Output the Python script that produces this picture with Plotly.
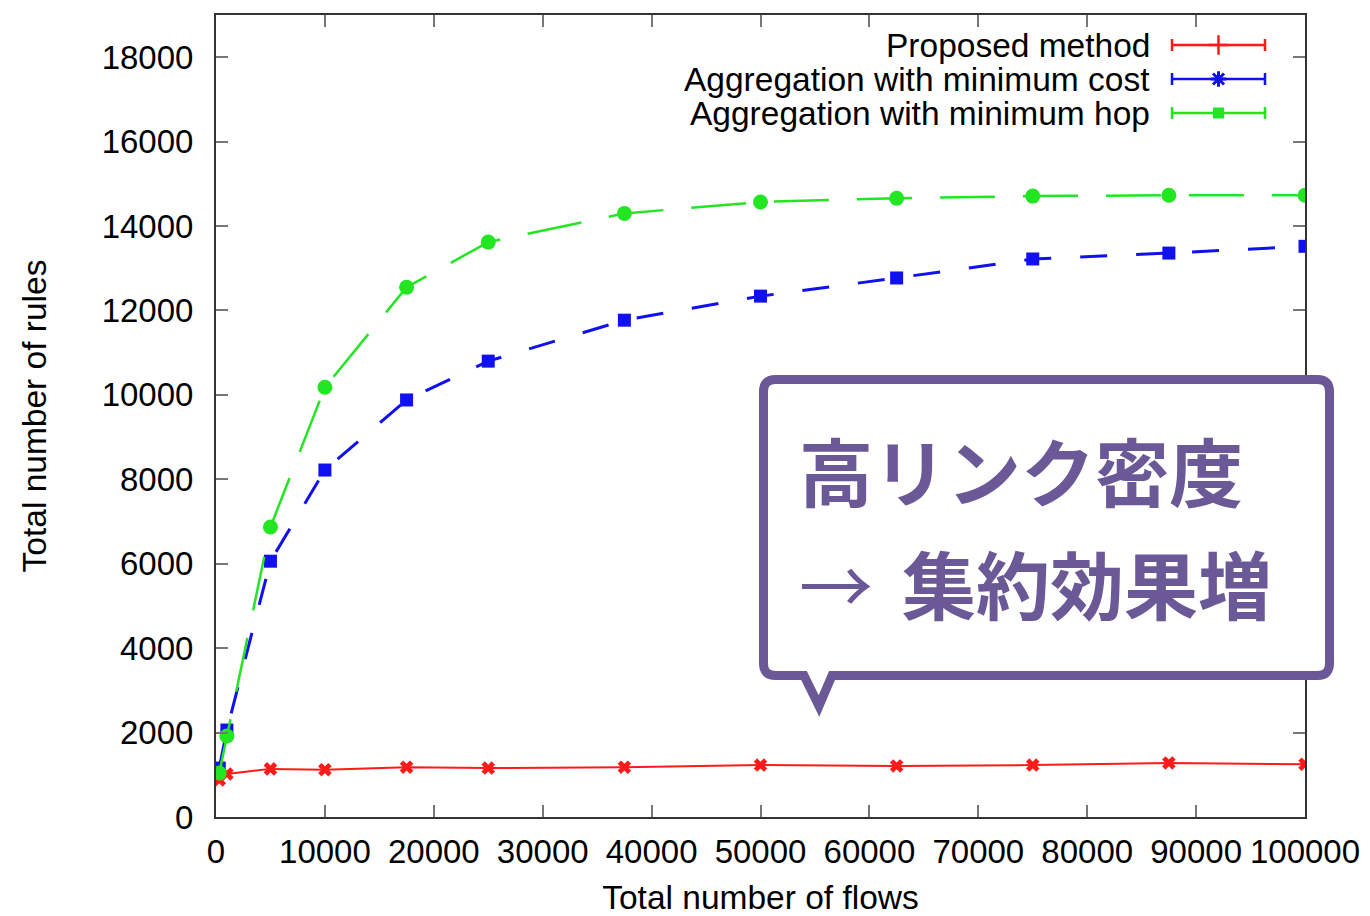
import plotly.graph_objects as go

# Total number of flows (x) and resulting rule counts per method (y)
flows = [300, 1000, 5000, 10000, 17500, 25000, 37500, 50000, 62500, 75000, 87500, 100000]
proposed = [880, 1020, 1140, 1120, 1180, 1160, 1180, 1230, 1210, 1230, 1280, 1250]
min_cost = [1160, 2060, 6060, 8220, 9880, 10800, 11770, 12340, 12770, 13220, 13360, 13520]
min_hop = [1040, 1920, 6870, 10180, 12550, 13620, 14300, 14570, 14660, 14710, 14730, 14730]

series_names = ["Proposed method", "Aggregation with minimum cost", "Aggregation with minimum hop"]
x_ticks = list(range(0, 100001, 10000))
y_ticks = list(range(0, 18001, 2000))

RED, BLUE, GREEN = "#ff1a1a", "#1010f0", "#22e622"
PURPLE = "#6b5897"
W, H = 1370, 916
ML, MR, MT, MB = 216, 65, 15, 99
PW, PH = W - ML - MR, H - MT - MB


def px(x):
    return (x - ML) / PW


def py(y):
    return (H - MB - y) / PH


fig = go.Figure()

fig.add_trace(go.Scatter(
    x=flows, y=proposed, mode="lines+markers", name=series_names[0],
    line=dict(color=RED, width=2),
    marker=dict(symbol="x", size=12, color=RED),
    showlegend=False))
fig.add_trace(go.Scatter(
    x=flows, y=min_cost, mode="lines+markers", name=series_names[1],
    line=dict(color=BLUE, width=3, dash="27px,29px"),
    marker=dict(symbol="square", size=13, color=BLUE),
    showlegend=False))
fig.add_trace(go.Scatter(
    x=flows, y=min_hop, mode="lines+markers", name=series_names[2],
    line=dict(color=GREEN, width=2.5, dash="55px,28px"),
    marker=dict(symbol="circle", size=15, color=GREEN),
    showlegend=False))

# Key: error-bar style samples drawn on an overlay axis spanning the plot area
key_rows = [py(45), py(79), py(113)]
key_mid = px(1218.5)
key_half = 46.5 / PW
key_markers = [
    dict(symbol="cross-thin-open", size=14, color=RED, line=dict(color=RED, width=2.5)),
    dict(symbol="asterisk-open", size=13, color=BLUE, line=dict(color=BLUE, width=3)),
    dict(symbol="square", size=11, color=GREEN),
]
key_colors = [RED, BLUE, GREEN]
for name, yk, col, mk in zip(series_names, key_rows, key_colors, key_markers):
    fig.add_trace(go.Scatter(
        x=[key_mid], y=[yk], xaxis="x2", yaxis="y2", mode="markers",
        marker=mk, showlegend=False, hoverinfo="skip",
        error_x=dict(type="data", array=[key_half], color=col, thickness=2.5, width=6)))
    fig.add_annotation(
        x=px(1152), y=yk, xref="paper", yref="paper", xanchor="right", yanchor="middle",
        text=name, showarrow=False,
        font=dict(family="Liberation Sans, Arial, sans-serif", size=33.5, color="black"))

# Speech-bubble callout
L, R, T, B, r = 763.5, 1329.5, 379.5, 675.5, 12
pts = [
    ("M", (L + r, T)), ("L", (R - r, T)), ("Q", (R, T), (R, T + r)),
    ("L", (R, B - r)), ("Q", (R, B), (R - r, B)),
    ("L", (832, B)), ("L", (819, 706)), ("L", (804, B)),
    ("L", (L + r, B)), ("Q", (L, B), (L, B - r)),
    ("L", (L, T + r)), ("Q", (L, T), (L + r, T)),
]
path = ""
for cmd, *coords in pts:
    path += cmd + " " + " ".join(f"{px(a):.5f},{py(b):.5f}" for a, b in coords) + " "
path += "Z"
fig.add_shape(type="path", path=path, xref="paper", yref="paper",
              line=dict(color=PURPLE, width=9), fillcolor="white", layer="above")

cjk = "Noto Sans CJK JP, sans-serif"
fig.add_annotation(x=px(797), y=py(469), xref="paper", yref="paper",
                   xanchor="left", yanchor="middle", showarrow=False,
                   text="<b>高リンク密度</b>",
                   font=dict(family=cjk, size=74, color=PURPLE))
fig.add_annotation(x=px(797), y=py(581), xref="paper", yref="paper",
                   xanchor="left", yanchor="middle", showarrow=False,
                   text="→ \u2006<b>集約効果増</b>",
                   font=dict(family=cjk, size=74, color=PURPLE))

axis_font = dict(family="Liberation Sans, Arial, sans-serif", size=33, color="black")
fig.update_layout(
    width=W, height=H,
    margin=dict(l=ML, r=MR, t=MT, b=MB, autoexpand=False),
    paper_bgcolor="white", plot_bgcolor="white",
    font=axis_font,
    xaxis=dict(
        range=[0, 100000], tickvals=x_ticks, tickformat="d",
        ticks="inside", ticklen=12, tickwidth=1.5, tickcolor="#777",
        showline=True, linecolor="#333", linewidth=2, mirror="ticks",
        showgrid=False, zeroline=False, tickfont=axis_font, ticklabelstandoff=4,
        title=dict(text="Total number of flows", font=dict(size=33.5), standoff=29),
    ),
    yaxis=dict(
        range=[0, 19000], tickvals=y_ticks, tickformat="d",
        ticks="inside", ticklen=12, tickwidth=1.5, tickcolor="#777",
        showline=True, linecolor="#333", linewidth=2, mirror="ticks",
        showgrid=False, zeroline=False, tickfont=axis_font, ticklabelstandoff=14,
        title=dict(text="Total number of rules", font=dict(size=33.5), standoff=45),
    ),
    xaxis2=dict(overlaying="x", range=[0, 1], visible=False, fixedrange=True),
    yaxis2=dict(overlaying="y", range=[0, 1], visible=False, fixedrange=True),
)

fig.write_html("out.html")
